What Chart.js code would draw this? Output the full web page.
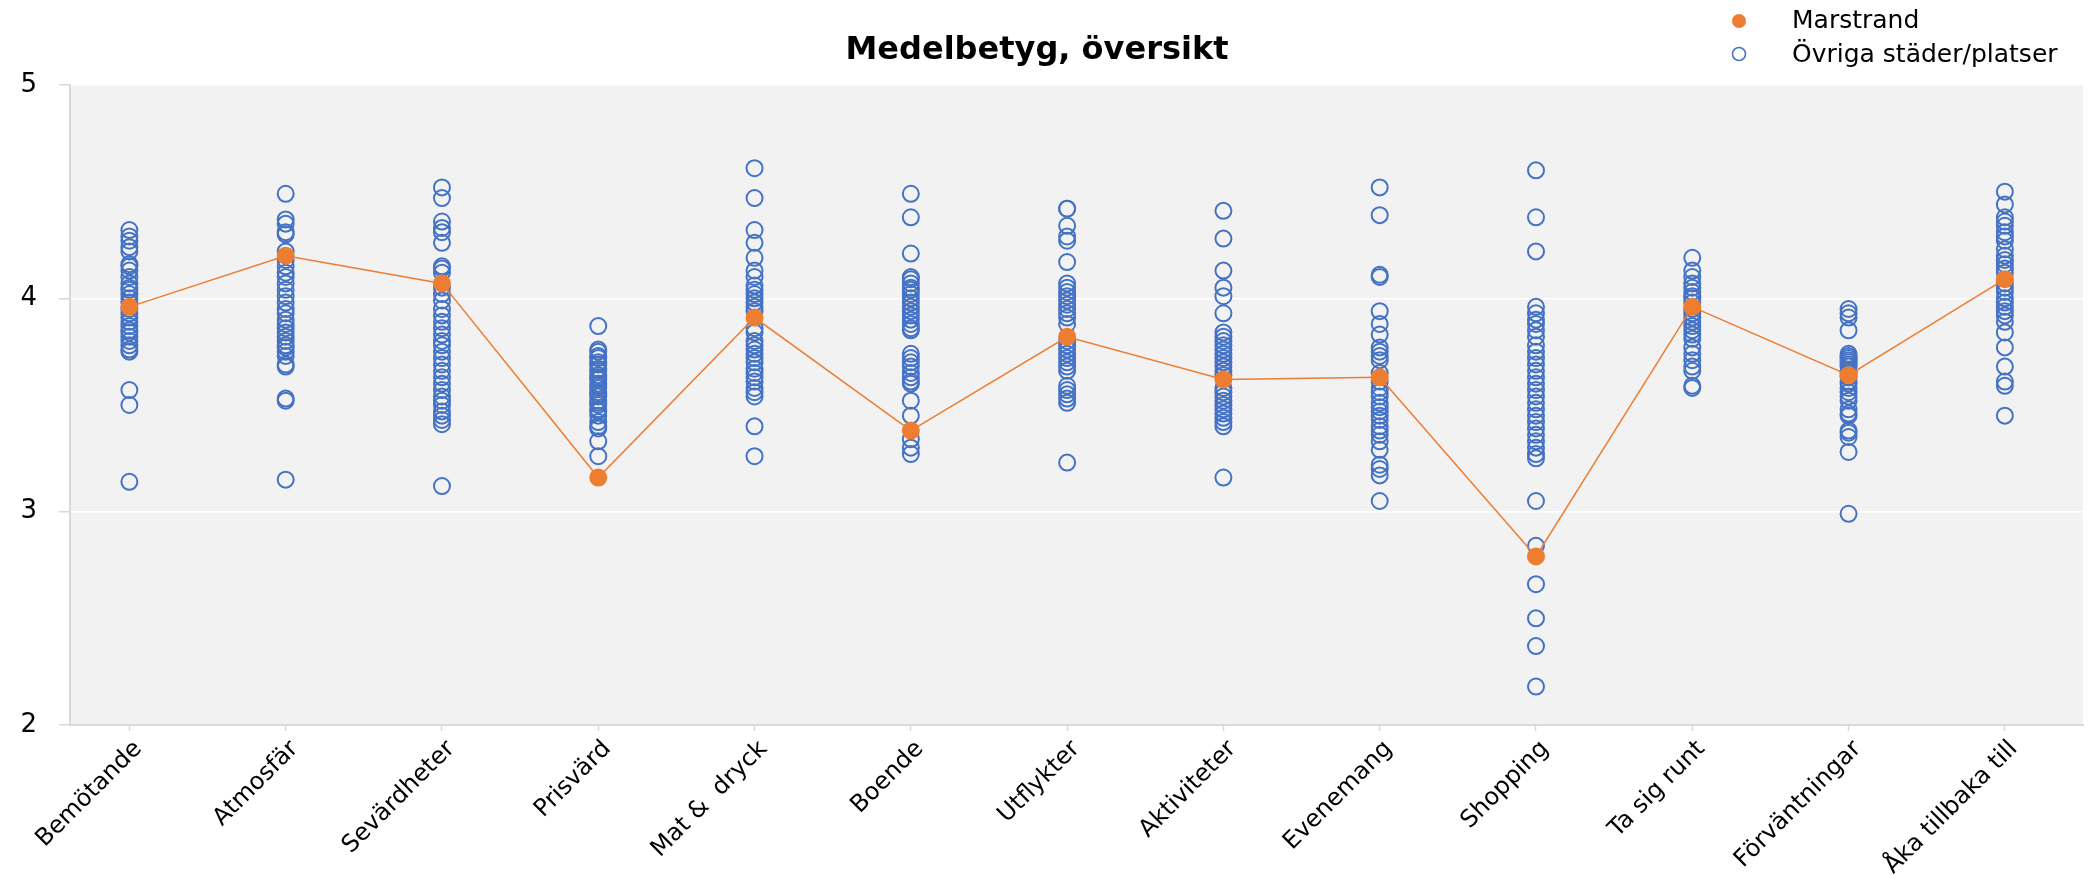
<!DOCTYPE html>
<html lang="sv">
<head>
<meta charset="utf-8">
<title>Medelbetyg, översikt</title>
<script src="https://cdn.jsdelivr.net/npm/chart.js@4.4.1/dist/chart.umd.min.js"></script>
<style>
  html, body { margin: 0; padding: 0; background: #fff; }
  #wrap { width: 2093px; height: 875px; }
</style>
</head>
<body>
<div id="wrap"><canvas id="overview" width="2093" height="875"></canvas></div>
<script>
// Kategorier längs x-axeln
const categories = [
    'Bemötande', 'Atmosfär', 'Sevärdheter', 'Prisvärd', 'Mat &  dryck', 'Boende',
    'Utflykter', 'Aktiviteter', 'Evenemang', 'Shopping', 'Ta sig runt',
    'Förväntningar', 'Åka tillbaka till'
];

// Marstrands medelbetyg per kategori
const marstrand = [3.96, 4.20, 4.07, 3.16, 3.91, 3.38, 3.82, 3.62, 3.63, 2.79, 3.96, 3.64, 4.09];

// Övriga städer/platser, en lista per kategori
const bemotande = [4.32, 4.29, 4.27, 4.24, 4.22, 4.16, 4.15, 4.13, 4.10, 4.07, 4.05, 4.04, 4.02, 4.00, 3.98, 3.95, 3.93, 3.91, 3.89, 3.87, 3.85, 3.84, 3.82, 3.80, 3.78, 3.76, 3.75, 3.57, 3.50, 3.14];
const atmosfar = [4.49, 4.37, 4.35, 4.31, 4.30, 4.22, 4.18, 4.15, 4.12, 4.10, 4.07, 4.04, 4.01, 3.98, 3.95, 3.93, 3.90, 3.88, 3.86, 3.84, 3.82, 3.80, 3.78, 3.77, 3.75, 3.73, 3.69, 3.68, 3.53, 3.52, 3.15];
const sevardheter = [4.52, 4.47, 4.36, 4.33, 4.31, 4.26, 4.15, 4.14, 4.12, 4.05, 4.02, 3.99, 3.95, 3.92, 3.89, 3.86, 3.83, 3.80, 3.78, 3.75, 3.72, 3.69, 3.66, 3.63, 3.60, 3.57, 3.54, 3.52, 3.50, 3.47, 3.45, 3.43, 3.41, 3.12];
const prisvard = [3.87, 3.76, 3.75, 3.73, 3.72, 3.70, 3.69, 3.67, 3.66, 3.64, 3.63, 3.62, 3.60, 3.59, 3.58, 3.56, 3.55, 3.54, 3.52, 3.51, 3.50, 3.48, 3.47, 3.45, 3.42, 3.40, 3.39, 3.33, 3.26];
const matDryck = [4.61, 4.47, 4.32, 4.26, 4.19, 4.13, 4.10, 4.06, 4.04, 4.02, 4.00, 3.98, 3.96, 3.94, 3.86, 3.84, 3.80, 3.78, 3.76, 3.74, 3.72, 3.70, 3.67, 3.65, 3.63, 3.61, 3.58, 3.56, 3.54, 3.40, 3.26];
const boende = [4.49, 4.38, 4.21, 4.10, 4.09, 4.07, 4.05, 4.04, 4.02, 4.00, 3.98, 3.96, 3.94, 3.92, 3.90, 3.88, 3.86, 3.85, 3.74, 3.72, 3.70, 3.68, 3.65, 3.63, 3.61, 3.60, 3.52, 3.45, 3.34, 3.30, 3.27];
const utflykter = [4.42, 4.42, 4.34, 4.29, 4.27, 4.17, 4.07, 4.05, 4.03, 4.01, 3.99, 3.97, 3.95, 3.93, 3.91, 3.88, 3.80, 3.78, 3.76, 3.74, 3.72, 3.70, 3.68, 3.66, 3.59, 3.57, 3.55, 3.53, 3.51, 3.23];
const aktiviteter = [4.41, 4.28, 4.13, 4.05, 4.01, 3.93, 3.84, 3.82, 3.80, 3.78, 3.76, 3.74, 3.72, 3.70, 3.68, 3.66, 3.64, 3.58, 3.56, 3.54, 3.52, 3.50, 3.48, 3.46, 3.44, 3.42, 3.40, 3.16];
const evenemang = [4.52, 4.39, 4.11, 4.10, 3.94, 3.88, 3.83, 3.77, 3.75, 3.73, 3.71, 3.65, 3.61, 3.58, 3.56, 3.54, 3.51, 3.49, 3.47, 3.45, 3.43, 3.40, 3.38, 3.36, 3.33, 3.29, 3.22, 3.20, 3.17, 3.05];
const shopping = [4.60, 4.38, 4.22, 3.96, 3.93, 3.90, 3.88, 3.85, 3.82, 3.78, 3.75, 3.72, 3.69, 3.66, 3.63, 3.60, 3.57, 3.54, 3.51, 3.48, 3.45, 3.42, 3.39, 3.36, 3.33, 3.30, 3.27, 3.25, 3.05, 2.84, 2.66, 2.50, 2.37, 2.18];
const tasigRunt = [4.19, 4.13, 4.10, 4.07, 4.05, 4.03, 4.01, 4.00, 3.98, 3.95, 3.93, 3.91, 3.89, 3.87, 3.85, 3.83, 3.81, 3.77, 3.74, 3.71, 3.68, 3.66, 3.59, 3.58];
const forvantningar = [3.95, 3.93, 3.91, 3.85, 3.74, 3.73, 3.72, 3.71, 3.70, 3.69, 3.68, 3.66, 3.65, 3.63, 3.61, 3.60, 3.58, 3.56, 3.54, 3.52, 3.48, 3.46, 3.45, 3.38, 3.37, 3.35, 3.28, 2.99];
const akaTillbaka = [4.50, 4.44, 4.38, 4.36, 4.34, 4.31, 4.29, 4.27, 4.23, 4.20, 4.18, 4.16, 4.14, 4.12, 4.07, 4.05, 4.03, 4.00, 3.98, 3.96, 3.94, 3.92, 3.89, 3.84, 3.77, 3.68, 3.61, 3.59, 3.45];

const ovriga = [bemotande, atmosfar, sevardheter, prisvard, matDryck, boende,
    utflykter, aktiviteter, evenemang, shopping, tasigRunt, forvantningar, akaTillbaka];

const yTicks = [2, 3, 4, 5];

const ORANGE = '#ED7D31';
const BLUE = '#4472C4';
const AXIS_GRAY = '#d9d9d9';
const FONT = "'DejaVu Sans', sans-serif";

// x = kategorins nummer (1..13)
const marstrandPoints = marstrand.map((v, i) => ({ x: i + 1, y: v }));
const ovrigaPoints = [];
ovriga.forEach((list, i) => {
    list.forEach(v => ovrigaPoints.push({ x: i + 1, y: v }));
});

// Grå bakgrund i diagramytan, titel och förklaring
const decorations = {
    id: 'decorations',
    beforeDraw(chart) {
        const { ctx, chartArea: a } = chart;
        ctx.save();
        ctx.fillStyle = '#f2f2f2';
        ctx.fillRect(a.left, a.top, a.right - a.left, a.bottom - a.top);
        ctx.restore();
    },
    afterDraw(chart) {
        const ctx = chart.ctx;
        ctx.save();
        ctx.fillStyle = '#000';
        ctx.textBaseline = 'alphabetic';

        ctx.font = 'bold 32px ' + FONT;
        ctx.textAlign = 'center';
        ctx.fillText('Medelbetyg, översikt', 1037, 59);

        ctx.font = '25px ' + FONT;
        ctx.textAlign = 'left';
        ctx.fillText(chart.data.datasets[0].label, 1792, 28);
        ctx.fillText(chart.data.datasets[1].label, 1792, 62);

        ctx.beginPath();
        ctx.arc(1739, 21, 7, 0, Math.PI * 2);
        ctx.fillStyle = ORANGE;
        ctx.fill();

        ctx.beginPath();
        ctx.arc(1739, 54, 6.5, 0, Math.PI * 2);
        ctx.strokeStyle = BLUE;
        ctx.lineWidth = 1.6;
        ctx.stroke();
        ctx.restore();
    }
};

new Chart(document.getElementById('overview'), {
    type: 'scatter',
    data: {
        datasets: [
            {
                label: 'Marstrand',
                data: marstrandPoints,
                showLine: true,
                borderColor: ORANGE,
                borderWidth: 1.5,
                pointRadius: 9,
                pointBorderWidth: 0,
                pointBackgroundColor: ORANGE
            },
            {
                label: 'Övriga städer/platser',
                data: ovrigaPoints,
                showLine: false,
                pointRadius: 8,
                pointBorderWidth: 2,
                pointBorderColor: BLUE,
                pointBackgroundColor: 'rgba(0,0,0,0)'
            }
        ]
    },
    options: {
        responsive: false,
        animation: false,
        layout: { padding: { top: 85, right: 3, left: 0, bottom: 0 } },
        plugins: {
            legend: { display: false },
            title: { display: false },
            tooltip: { enabled: false }
        },
        scales: {
            x: {
                type: 'linear',
                min: 0.62,
                max: 13.5,
                afterBuildTicks: axis => {
                    axis.ticks = categories.map((c, i) => ({ value: i + 1 }));
                },
                afterFit: axis => {
                    axis.height = 150;
                    axis.paddingLeft = 0;
                    axis.paddingRight = 0;
                },
                grid: {
                    drawOnChartArea: false,
                    tickLength: 6,
                    tickColor: AXIS_GRAY,
                    tickWidth: 1.5
                },
                border: { color: AXIS_GRAY, width: 2 },
                ticks: {
                    autoSkip: false,
                    minRotation: 45,
                    maxRotation: 45,
                    padding: 4,
                    labelOffset: 9,
                    color: '#000',
                    font: { family: FONT, size: 24 },
                    callback: value => categories[value - 1]
                }
            },
            y: {
                min: 2,
                max: 5,
                afterBuildTicks: axis => {
                    axis.ticks = yTicks.map(v => ({ value: v }));
                },
                afterFit: axis => { axis.width = 70; },
                grid: {
                    color: c => (c.tick && c.tick.value === 2) ? 'rgba(0,0,0,0)' : '#ffffff',
                    lineWidth: 1.5,
                    tickLength: 11,
                    tickColor: AXIS_GRAY,
                    tickWidth: 1.5
                },
                border: { color: AXIS_GRAY, width: 2 },
                ticks: {
                    padding: 22,
                    color: '#000',
                    font: { family: FONT, size: 26 }
                }
            }
        }
    },
    plugins: [decorations]
});
</script>
</body>
</html>
